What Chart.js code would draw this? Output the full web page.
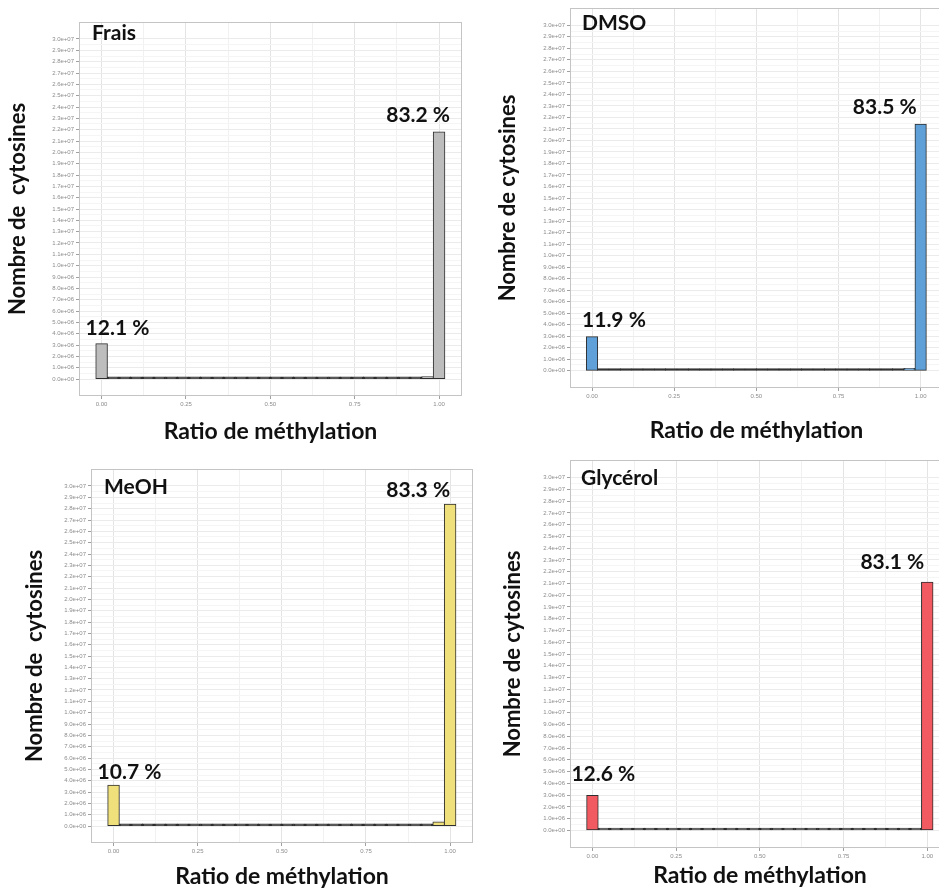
<!DOCTYPE html>
<html>
<head>
<meta charset="utf-8">
<script src="https://cdn.jsdelivr.net/npm/chart.js@4.4.1/dist/chart.umd.min.js"></script>
<style>
  html, body { margin: 0; padding: 0; background: #fff; overflow: hidden; }
  #wrap { position: relative; width: 939px; height: 890px; overflow: hidden; background: #fff; }
  canvas { position: absolute; }
</style>
</head>
<body>
<div id="wrap">
  <canvas id="c1"></canvas>
  <canvas id="c2"></canvas>
  <canvas id="c3"></canvas>
  <canvas id="c4"></canvas>
</div>
<script>
// histogram bin centres (30 bins over 0..1)
const binCenters = [0, 0.034, 0.069, 0.103, 0.138, 0.172, 0.207, 0.241, 0.276, 0.310,
  0.345, 0.379, 0.414, 0.448, 0.483, 0.517, 0.552, 0.586, 0.621, 0.655,
  0.690, 0.724, 0.759, 0.793, 0.828, 0.862, 0.897, 0.931, 0.966, 1.000];

// counts per bin
const fraisCounts = [3.1e6, 2e4, 2e4, 2e4, 2e4, 2e4, 2e4, 3e4, 2e4, 3e4,
  3e4, 3e4, 3e4, 4e4, 4e4, 4e4, 4e4, 4e4, 4e4, 5e4,
  5e4, 5e4, 5e4, 6e4, 6e4, 7e4, 8e4, 9e4, 2.0e5, 2.18e7];
const dmsoCounts = [2.95e6, 2e4, 2e4, 2e4, 2e4, 2e4, 2e4, 3e4, 2e4, 3e4,
  3e4, 3e4, 3e4, 4e4, 4e4, 4e4, 4e4, 4e4, 4e4, 5e4,
  5e4, 5e4, 5e4, 6e4, 6e4, 7e4, 8e4, 9e4, 2.0e5, 2.14e7];
const meohCounts = [3.6e6, 2e4, 3e4, 3e4, 3e4, 3e4, 3e4, 4e4, 3e4, 4e4,
  4e4, 5e4, 5e4, 5e4, 6e4, 6e4, 6e4, 7e4, 7e4, 8e4,
  8e4, 9e4, 9e4, 1.0e5, 1.1e5, 1.2e5, 1.3e5, 1.5e5, 3.5e5, 2.84e7];
const glycerolCounts = [2.97e6, 2e4, 2e4, 2e4, 2e4, 2e4, 2e4, 2e4, 2e4, 3e4,
  3e4, 3e4, 3e4, 3e4, 4e4, 4e4, 4e4, 4e4, 4e4, 4e4,
  5e4, 5e4, 5e4, 5e4, 6e4, 6e4, 7e4, 8e4, 1.5e5, 2.11e7];

// percentage labels (unmethylated bin, methylated bin)
const fraisPct = ['12.1 %', '83.2 %'];
const dmsoPct = ['11.9 %', '83.5 %'];
const meohPct = ['10.7 %', '83.3 %'];
const glycerolPct = ['12.6 %', '83.1 %'];

const panelNames = ['Frais', 'DMSO', 'MeOH', 'Glycérol'];

const yTickLabels = ['0.0e+00', '1.0e+06', '2.0e+06', '3.0e+06', '4.0e+06', '5.0e+06',
  '6.0e+06', '7.0e+06', '8.0e+06', '9.0e+06', '1.0e+07', '1.1e+07', '1.2e+07',
  '1.3e+07', '1.4e+07', '1.5e+07', '1.6e+07', '1.7e+07', '1.8e+07', '1.9e+07',
  '2.0e+07', '2.1e+07', '2.2e+07', '2.3e+07', '2.4e+07', '2.5e+07', '2.6e+07',
  '2.7e+07', '2.8e+07', '2.9e+07', '3.0e+07'];
const yTickValues = yTickLabels.map(Number);
const xTickLabels = ['0.00', '0.25', '0.50', '0.75', '1.00'];
const xTickValues = xTickLabels.map(Number);

// minor grid lines halfway between the majors
const yMinor = yTickValues.slice(1).map((v, i) => (v + yTickValues[i]) / 2);
const xMinor = xTickValues.slice(1).map((v, i) => (v + xTickValues[i]) / 2);

const FONT = 'Lato, "Open Sans", sans-serif';

const panels = [
  { id: 'c1', left: 0, top: 0, w: 470, h: 445, pad: { left: 0, top: 22, right: 8, bottom: 0 },
    yW: 79, xH: 49, yTitlePad: 5, xTitlePad: 0, yTitle: 'Nombre de  cytosines',
    color: '#bdbdbd', counts: fraisCounts, pct: fraisPct, name: panelNames[0],
    nameOff: [13, 11], lblOff: [[-16, -16], [11, -17]] },
  { id: 'c2', left: 470, top: 0, w: 480, h: 445, pad: { left: 0, top: 8, right: 7, bottom: 0 },
    yW: 100, xH: 57, yTitlePad: 25, xTitlePad: 1, yTitle: 'Nombre de cytosines',
    color: '#5fa0d8', counts: dmsoCounts, pct: dmsoPct, name: panelNames[1],
    nameOff: [12, 15], lblOff: [[-10, -17], [-4, -17]] },
  { id: 'c3', left: 0, top: 445, w: 480, h: 445, pad: { left: 0, top: 24, right: 7, bottom: 0 },
    yW: 91, xH: 47, yTitlePad: 22, xTitlePad: 0, yTitle: 'Nombre de  cytosines',
    color: '#efe07c', counts: meohCounts, pct: meohPct, name: panelNames[2],
    nameOff: [13, 18], lblOff: [[-16, -13], [0, -14]] },
  { id: 'c4', left: 470, top: 445, w: 490, h: 445, pad: { left: 0, top: 15, right: 10, bottom: 0 },
    yW: 100, xH: 42, yTitlePad: 30, xTitlePad: 1, yTitle: 'Nombre de cytosines',
    color: '#f05a60', counts: glycerolCounts, pct: glycerolPct, name: panelNames[3],
    nameOff: [11, 18], lblOff: [[-21, -21], [-3, -20]] }
];

// panel frame + text annotations
const annotate = {
  id: 'annotate',
  afterDatasetsDraw(chart, args, opts) {
    const { ctx, chartArea: a } = chart;
    ctx.save();
    ctx.strokeStyle = '#c4c4c4';
    ctx.lineWidth = 1;
    ctx.strokeRect(a.left + 0.5, a.top + 0.5, a.right - a.left - 1, a.bottom - a.top - 1);

    ctx.fillStyle = '#111';
    ctx.font = 'bold 21px ' + FONT;
    ctx.textBaseline = 'middle';
    ctx.textAlign = 'left';
    ctx.fillText(opts.name, a.left + opts.nameOff[0], a.top + opts.nameOff[1]);

    const bars = chart.getDatasetMeta(0).data;
    const first = bars[0], last = bars[bars.length - 1];
    ctx.textAlign = 'left';
    ctx.fillText(opts.pct[0], first.x + opts.lblOff[0][0], first.y + opts.lblOff[0][1]);
    ctx.textAlign = 'right';
    ctx.fillText(opts.pct[1], last.x + opts.lblOff[1][0], last.y + opts.lblOff[1][1]);
    ctx.restore();
  }
};

function makeHist(p) {
  const cv = document.getElementById(p.id);
  cv.width = p.w; cv.height = p.h;
  cv.style.left = p.left + 'px';
  cv.style.top = p.top + 'px';

  const yGrid = yTickValues.concat(yMinor);
  const xGrid = xTickValues.concat(xMinor);

  new Chart(cv.getContext('2d'), {
    type: 'bar',
    data: {
      datasets: [{
        data: binCenters.map((x, i) => ({ x: x, y: p.counts[i] })),
        // the near-empty bins collapse into the dark outline along the baseline
        backgroundColor: c => (c.raw && c.raw.y < 1.8e5) ? '#333' : p.color,
        borderColor: '#2e2e2e',
        borderWidth: 1,
        borderSkipped: false,
        inflateAmount: 0.5,
        minBarLength: 2,
        barPercentage: 1,
        categoryPercentage: 1
      }]
    },
    options: {
      responsive: false,
      animation: false,
      events: [],
      layout: { padding: p.pad },
      plugins: {
        legend: { display: false },
        tooltip: { enabled: false },
        annotate: { name: p.name, pct: p.pct, nameOff: p.nameOff, lblOff: p.lblOff }
      },
      scales: {
        x: {
          type: 'linear',
          min: -0.067, max: 1.068,
          offset: false,
          afterBuildTicks: s => { s.ticks = xGrid.map(v => ({ value: v })); },
          afterFit: s => { s.height = p.xH; },
          border: { display: false },
          grid: {
            offset: false,
            color: c => xTickValues.includes(c.tick.value) ? '#e4e4e4' : '#f1f1f1',
            tickColor: c => xTickValues.includes(c.tick.value) ? '#a0a0a0' : 'rgba(0,0,0,0)',
            tickLength: 3
          },
          ticks: {
            autoSkip: false, maxRotation: 0, padding: 2,
            color: '#8c8c8c',
            font: { family: 'Liberation Sans', size: 6 },
            callback: v => { const i = xTickValues.indexOf(v); return i >= 0 ? xTickLabels[i] : ''; }
          },
          title: {
            display: true, text: 'Ratio de méthylation', color: '#111',
            font: { family: FONT, weight: 'bold', size: 23 },
            padding: { top: 0, bottom: p.xTitlePad }
          }
        },
        y: {
          min: -1.5e6, max: 31.5e6,
          afterBuildTicks: s => { s.ticks = yGrid.map(v => ({ value: v })); },
          afterFit: s => { s.width = p.yW; },
          border: { display: false },
          grid: {
            color: c => yTickValues.includes(c.tick.value) ? '#ebebeb' : '#f5f5f5',
            tickColor: c => yTickValues.includes(c.tick.value) ? '#a0a0a0' : 'rgba(0,0,0,0)',
            tickLength: 3
          },
          ticks: {
            autoSkip: false, padding: 2,
            color: '#8c8c8c',
            font: { family: 'Liberation Sans', size: 6 },
            callback: v => { const i = yTickValues.indexOf(v); return i >= 0 ? yTickLabels[i] : ''; }
          },
          title: {
            display: true, text: p.yTitle, color: '#111',
            font: { family: FONT, weight: 'bold', size: 22 },
            padding: { top: p.yTitlePad, bottom: 0 }
          }
        }
      }
    },
    plugins: [annotate]
  });
}

panels.forEach(makeHist);
</script>
</body>
</html>
